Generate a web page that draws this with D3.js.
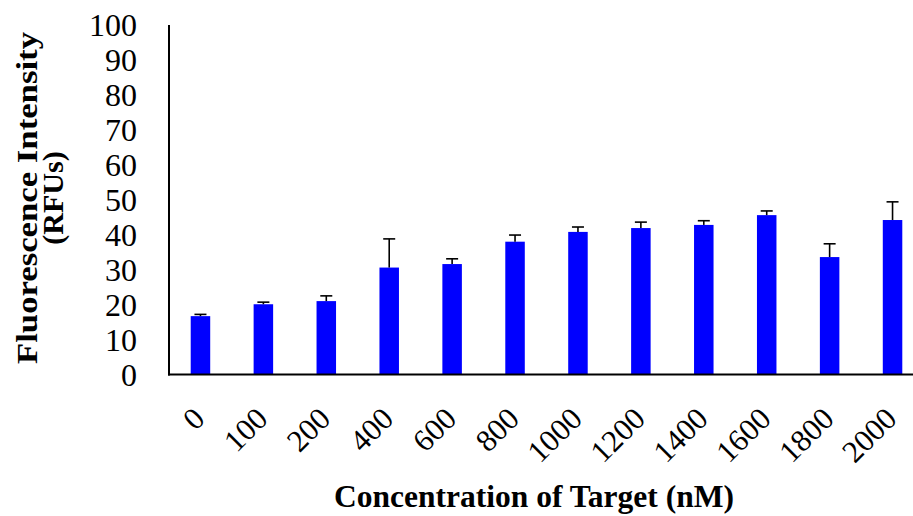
<!DOCTYPE html>
<html>
<head>
<meta charset="utf-8">
<script src="https://cdn.jsdelivr.net/npm/d3@7"></script>
<style>
  html, body { margin: 0; padding: 0; background: #fff; }
  svg { display: block; }
</style>
</head>
<body>
<svg id="chart" width="913" height="516"></svg>
<script>
const categories = ["0", "100", "200", "400", "600", "800", "1000", "1200", "1400", "1600", "1800", "2000"];
const values = [16.7, 20.1, 21.0, 30.6, 31.6, 38.0, 40.8, 41.9, 42.8, 45.6, 33.6, 44.2];
const errors = [0.5, 0.6, 1.5, 8.2, 1.5, 1.9, 1.4, 1.7, 1.2, 1.2, 3.8, 5.2];
const yTicks = [0, 10, 20, 30, 40, 50, 60, 70, 80, 90, 100];
const yTitleLines = ["Fluorescence Intensity", "(RFUs)"];
const xTitle = "Concentration of Target (nM)";

(function () {
const svg = d3.select("#chart");
const W = 913, H = 516;
const pLeft = 169, pRight = 924, pTop = 25, pBottom = 374.5;
const serif = "'Liberation Serif', 'DejaVu Serif', serif";

const x = d3.scaleBand().domain(categories).range([pLeft, pRight]).paddingInner(0.69).paddingOuter(0.345);
const y = d3.scaleLinear().domain([0, 100]).range([pBottom, pTop]);

// bars
svg.append("g").selectAll("rect").data(values).join("rect")
  .attr("x", (d, i) => x(categories[i]))
  .attr("y", d => y(d))
  .attr("width", x.bandwidth())
  .attr("height", d => y(0) - y(d))
  .attr("fill", "#0000ff");

// error bars
const eg = svg.append("g").attr("stroke", "#000").attr("stroke-width", 1.6);
values.forEach((v, i) => {
  const cx = x(categories[i]) + x.bandwidth() / 2;
  eg.append("line").attr("x1", cx).attr("x2", cx).attr("y1", y(v)).attr("y2", y(v + errors[i]));
  eg.append("line").attr("x1", cx - 6).attr("x2", cx + 6).attr("y1", y(v + errors[i])).attr("y2", y(v + errors[i]));
});

// y axis
const yAxis = d3.axisLeft(y).tickValues(yTicks).tickSize(0).tickPadding(32);
const yg = svg.append("g").attr("transform", `translate(${pLeft},0)`).call(yAxis);
yg.select(".domain").remove();
yg.selectAll("text").attr("font-family", serif).attr("font-size", 32).attr("fill", "#000").attr("dy", "0.33em");
svg.append("line").attr("x1", pLeft).attr("x2", pLeft).attr("y1", pTop).attr("y2", pBottom + 1)
  .attr("stroke", "#000").attr("stroke-width", 2);

// x axis
const xAxis = d3.axisBottom(x).tickSize(0).tickPadding(0);
const xg = svg.append("g").attr("transform", `translate(0,${pBottom})`).call(xAxis);
xg.select(".domain").remove();
xg.selectAll("text")
  .attr("font-family", serif).attr("font-size", 31).attr("fill", "#000")
  .attr("text-anchor", "end")
  .attr("dy", 0)
  .attr("transform", "translate(6,46) rotate(-45)");
svg.append("line").attr("x1", pLeft - 1).attr("x2", W).attr("y1", pBottom).attr("y2", pBottom)
  .attr("stroke", "#000").attr("stroke-width", 2);

// titles
const yt = svg.append("text")
  .attr("transform", "translate(0,198) rotate(-90)")
  .attr("text-anchor", "middle")
  .attr("font-family", serif).attr("font-weight", "bold").attr("font-size", 30).attr("fill", "#000");
yt.selectAll("tspan").data(yTitleLines).join("tspan")
  .attr("x", 0).attr("y", (d, i) => 37 + i * 26)
  .attr("textLength", (d, i) => i === 0 ? 332 : null)
  .attr("lengthAdjust", "spacingAndGlyphs")
  .text(d => d);

svg.append("text")
  .attr("x", 534).attr("y", 507)
  .attr("text-anchor", "middle")
  .attr("font-family", serif).attr("font-weight", "bold").attr("font-size", 31.5).attr("fill", "#000")
  .text(xTitle);
})();
</script>
</body>
</html>
